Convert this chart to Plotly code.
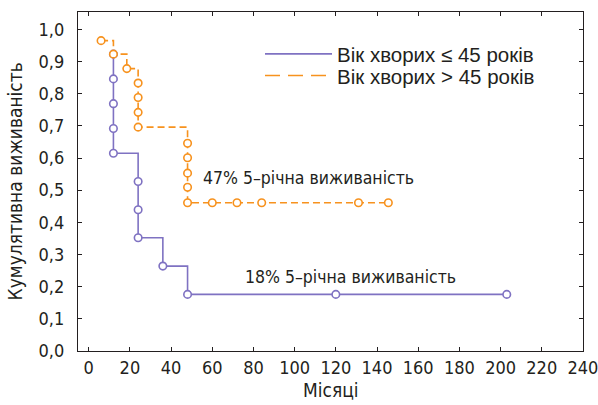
import plotly.graph_objects as go

# Вік хворих ≤ 45 років
young_t = [12, 12, 12, 12, 12, 24, 24, 24, 36, 48, 120, 203]
young_s = [0.923, 0.846, 0.769, 0.692, 0.615, 0.527, 0.439, 0.352, 0.264, 0.176, 0.176, 0.176]

# Вік хворих > 45 років
old_t = [6, 12, 18.5, 24, 24, 24, 24, 48, 48, 48, 48, 48, 60, 72, 84, 131, 145.5]
old_s = [0.965, 0.923, 0.878, 0.833, 0.788, 0.742, 0.696, 0.646, 0.601, 0.553, 0.509, 0.461,
         0.461, 0.461, 0.461, 0.461, 0.461]

x_ticks = list(range(0, 241, 20))
y_ticks = [i / 10 for i in range(11)]

PURPLE = "#7f72c2"
ORANGE = "#f7921e"
INK = "#231f20"
COND = "DejaVu Sans Condensed, Liberation Sans Narrow, sans-serif"
REG = "Liberation Sans, Arial, sans-serif"

fig = go.Figure()
fig.add_trace(go.Scatter(x=young_t, y=young_s, mode="lines+markers", line_shape="hv",
                         line=dict(color=PURPLE, width=1.6),
                         marker=dict(symbol="circle", size=7.5, color="white",
                                     line=dict(color=PURPLE, width=1.6)),
                         showlegend=False))
fig.add_trace(go.Scatter(x=old_t, y=old_s, mode="lines+markers", line_shape="hv",
                         line=dict(color=ORANGE, width=1.6, dash="7px,4px"),
                         marker=dict(symbol="circle", size=7.5, color="white",
                                     line=dict(color=ORANGE, width=1.6)),
                         showlegend=False))
fig.add_trace(go.Scatter(x=[None], y=[None], mode="lines", name="Вік хворих ≤ 45 років",
                         line=dict(color=PURPLE, width=1.6), legend="legend"))
fig.add_trace(go.Scatter(x=[None], y=[None], mode="lines", name="Вік хворих > 45 років",
                         line=dict(color=ORANGE, width=1.6, dash="15px,8px"), legend="legend2"))

fig.add_annotation(x=54.4, y=0.538, text="47% 5–річна виживаність", showarrow=False,
                   xanchor="left", yanchor="middle", font=dict(family=COND, size=17.5, color=INK))
fig.add_annotation(x=74.8, y=0.23, text="18% 5–річна виживаність", showarrow=False,
                   xanchor="left", yanchor="middle", font=dict(family=COND, size=17.5, color=INK))

# axis titles
fig.add_annotation(xref="paper", yref="paper", x=-0.1248, y=0.5, text="Кумулятивна виживаність",
                   textangle=-90, showarrow=False, xanchor="center", yanchor="middle",
                   font=dict(family=COND, size=19, color=INK))
fig.add_annotation(xref="paper", yref="paper", x=0.5, y=-0.115, text="Місяці",
                   showarrow=False, xanchor="center", yanchor="middle",
                   font=dict(family=COND, size=19, color=INK))

leg_common = dict(xanchor="left", yanchor="middle", bgcolor="rgba(0,0,0,0)",
                  font=dict(family=REG, size=20.5, color=INK), itemwidth=67)

fig.update_layout(
    width=598, height=405,
    margin=dict(l=78, r=15, t=12, b=54, autoexpand=False),
    paper_bgcolor="white", plot_bgcolor="white",
    separators=", ",
    font=dict(family=COND, size=18, color=INK),
    legend=dict(x=0.3604, y=0.876, **leg_common),
    legend2=dict(x=0.3604, y=0.812, **leg_common),
)
fig.update_xaxes(range=[-5.2, 240.02], tickvals=x_ticks, ticks="inside", ticklen=4,
                 tickcolor=INK, showline=True, linecolor=INK, linewidth=1.2,
                 mirror="ticks", showgrid=False, zeroline=False, automargin=False,
                 ticklabeloverflow="allow",
                 tickfont=dict(family=COND, size=18, color=INK))
fig.update_yaxes(range=[0, 1.054], tickvals=y_ticks, tickformat=".1f", ticks="inside", ticklen=4,
                 tickcolor=INK, showline=True, linecolor=INK, linewidth=1.2,
                 mirror="ticks", showgrid=False, zeroline=False, ticklabelstandoff=9,
                 automargin=False, tickfont=dict(family=COND, size=18, color=INK))

fig.write_html("out.html", config={"displayModeBar": False},
               post_script="document.body.style.margin='0px';")
